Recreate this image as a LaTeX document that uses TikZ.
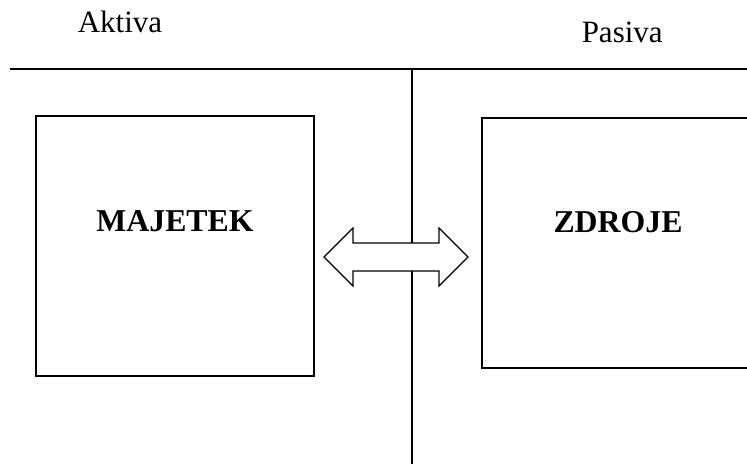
\documentclass[tikz,border=0pt]{standalone}
\usepackage{fontspec}
\setmainfont{Liberation Serif}
\usetikzlibrary{positioning}
\begin{document}
\begin{tikzpicture}[x=1pt,y=-1pt,line width=1.5pt,
  nadpis/.style={font=\fontsize{31}{34}\selectfont, anchor=base west, inner sep=0pt},
  polozka/.style={font=\fontsize{31.8}{36}\selectfont\bfseries, anchor=base, inner sep=0pt},
  blok/.style={draw, line width=1.5pt, inner sep=0pt}]
\useasboundingbox (0,0) rectangle (747,464);
\coordinate (hl) at (10,69);
\coordinate (hr) at (747,69);
\coordinate (vt) at (412,69);
\coordinate (vb) at (412,464);
\draw (hl)--(hr);
\draw (vt)--(vb);
\node[blok, minimum width=278pt, minimum height=260pt] (aktbox) at (175,246) {};
\node[blok, minimum width=274pt, minimum height=250pt] (pasbox) at (619,243) {};
\node[nadpis] (aktiva) at (77,32) {Aktiva};
\node[nadpis] (pasiva) at (581,42) {Pasiva};
\node[polozka] (majetek) at (175,231) {MAJETEK};
\node[polozka] (zdroje) at (618,232) {ZDROJE};
\draw[fill=white, line width=1.2pt] (324,257)--(353,228)--(353,243)--(439,243)
--(439,228)--(468,257)--(439,286)--(439,271)--(353,271)--(353,286)--cycle;
\end{tikzpicture}
\end{document}
